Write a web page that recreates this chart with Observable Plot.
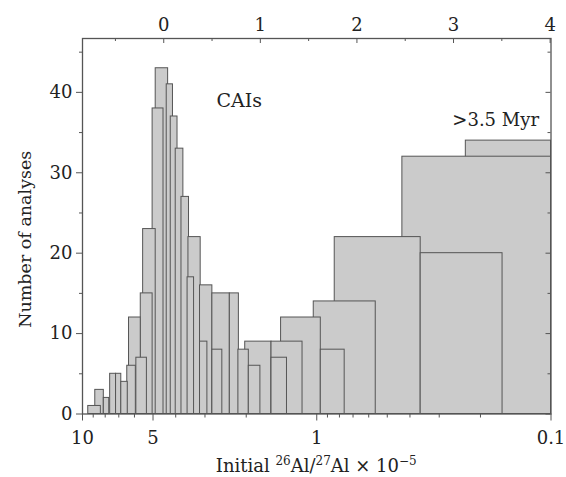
<!DOCTYPE html>
<html>
<head>
<meta charset="utf-8">
<script src="https://cdn.jsdelivr.net/npm/d3@7"></script>
<script src="https://cdn.jsdelivr.net/npm/@observablehq/plot@0.6"></script>
<style>
  html, body { margin: 0; padding: 0; background: #fff; }
</style>
</head>
<body>
<div id="chart"></div>
<script>
// Histogram bins of initial 26Al/27Al (x 10^-5): upper edge, lower edge, number of analyses.
const binHigh  = [9.45, 8.82, 8.11, 7.62, 7.19, 6.83, 6.44, 6.33, 5.89, 5.64, 5.51, 5.02, 4.87, 4.37, 4.20, 4.00, 3.78, 3.56, 3.53, 3.15, 3.15, 2.79, 2.35, 2.79, 2.16, 2.02, 1.95, 1.56, 1.56, 1.42, 0.961, 1.03, 0.838, 0.360, 0.431, 0.231];
const binLow   = [8.35, 8.11, 7.69, 7.19, 6.83, 6.41, 5.92, 5.64, 5.31, 5.02, 4.87, 4.51, 4.31, 4.11, 3.93, 3.71, 3.51, 3.34, 3.13, 2.79, 2.93, 2.35, 2.15, 2.53, 1.95, 1.56, 1.74, 1.15, 1.34, 0.961, 0.760, 0.560, 0.360, 0.161, 0.100, 0.100];
const binCount = [1, 3, 2, 5, 5, 4, 6, 12, 7, 15, 23, 38, 43, 41, 37, 33, 27, 17, 22, 16, 9, 15, 15, 8, 8, 9, 6, 9, 7, 12, 8, 14, 22, 20, 32, 34];

// Axis ticks
const ratioMajor = [10, 5, 1, 0.1];
const ratioMinor = [9, 8, 7, 6, 4, 3, 2, 0.9, 0.8, 0.7, 0.6, 0.5, 0.4, 0.3, 0.2];
const timeMajor  = [0, 1, 2, 3, 4];          // Myr after CAI formation
const timeMinor  = [-0.5, 0.5, 1.5, 2.5, 3.5];
const countMajor = [0, 10, 20, 30, 40];
const countMinor = [5, 15, 25, 35, 45];

// Decay of 26Al from the canonical initial ratio
const halfLife = 0.73;                 // Myr
const tau = halfLife / Math.LN2;
const ratio0 = 4.5;
const ratioAt = t => ratio0 * Math.exp(-t / tau);

const bins = binCount.map((n, i) => ({hi: binHigh[i], lo: binLow[i], n}));
// taller bins sit behind the shorter ones
const drawOrder = d3.sort(bins, d => -d.n);

const W = 566, H = 477;
const M = {top: 38, right: 15.5, bottom: 63.5, left: 82};
const innerW = W - M.left - M.right;
const innerH = H - M.top - M.bottom;
const font = "DejaVu Serif";
const ink = "#222";
const edge = "#555";
const labelSize = 18;

const plot = Plot.plot({
  width: W,
  height: H,
  marginTop: M.top,
  marginRight: M.right,
  marginBottom: M.bottom,
  marginLeft: M.left,
  style: {fontFamily: font, fontSize: labelSize + "px", color: ink, background: "#fff", overflow: "visible"},
  x: {type: "log", domain: [10, 0.1], axis: null},
  y: {domain: [0, 46.7], axis: null},
  marks: [
    Plot.rect(drawOrder, {x1: "hi", x2: "lo", y1: 0, y2: "n", fill: "#cbcbcb", stroke: edge, strokeWidth: 1}),
    Plot.frame({stroke: edge, strokeWidth: 1.3}),

    // bottom: initial ratio
    Plot.tickX(ratioMajor, {x: d => d, insetTop: innerH, insetBottom: -7, stroke: edge}),
    Plot.tickX(ratioMinor, {x: d => d, insetTop: innerH, insetBottom: -4, stroke: edge}),
    Plot.text(ratioMajor, {x: d => d, text: d => String(d), frameAnchor: "bottom", lineAnchor: "top", dy: 17, fill: ink, fontSize: labelSize}),

    // top: time in Myr
    Plot.tickX(timeMajor.map(ratioAt), {x: d => d, insetBottom: innerH - 5, stroke: edge}),
    Plot.tickX(timeMinor.map(ratioAt), {x: d => d, insetBottom: innerH - 3, stroke: edge}),
    Plot.text(timeMajor, {x: ratioAt, text: d => String(d), frameAnchor: "top", lineAnchor: "bottom", dy: -8, fill: ink, fontSize: labelSize}),

    // left and right: counts
    Plot.axisY(countMajor, {anchor: "left", tickSize: 6, tickPadding: 4, label: null, stroke: edge, fontSize: labelSize}),
    Plot.axisY(countMinor, {anchor: "left", tickSize: 3, tickFormat: () => "", label: null, stroke: edge}),
    Plot.tickY(countMajor, {y: d => d, insetLeft: innerW - 5, stroke: edge}),
    Plot.tickY(countMinor, {y: d => d, insetLeft: innerW - 3, stroke: edge}),

    // annotations
    Plot.text(["CAIs"], {frameAnchor: "top-left", dx: 134, dy: 62, fontSize: 19, textAnchor: "start", lineAnchor: "middle", fill: ink}),
    Plot.text([">3.5 Myr"], {frameAnchor: "top-right", dx: -12, dy: 82, fontSize: 18, textAnchor: "end", lineAnchor: "middle", fill: ink}),
    Plot.text(["Number of analyses"], {frameAnchor: "left", rotate: -90, dx: -57, dy: 13, fontSize: 17.5, textAnchor: "middle", lineAnchor: "middle", fill: ink})
  ]
});

// x-axis title with superscripts
const title = d3.select(plot).append("text")
  .attr("x", M.left + innerW / 2)
  .attr("y", 472)
  .attr("text-anchor", "middle")
  .attr("font-family", font)
  .attr("font-size", 18)
  .attr("fill", ink);
title.append("tspan").text("Initial ");
title.append("tspan").attr("font-size", 12).attr("dy", -7).text("26");
title.append("tspan").attr("dy", 7).text("Al/");
title.append("tspan").attr("font-size", 12).attr("dy", -7).text("27");
title.append("tspan").attr("dy", 7).text("Al \u00d7 10");
title.append("tspan").attr("font-size", 12).attr("dy", -7).text("\u22125");

document.getElementById("chart").appendChild(plot);
</script>
</body>
</html>
